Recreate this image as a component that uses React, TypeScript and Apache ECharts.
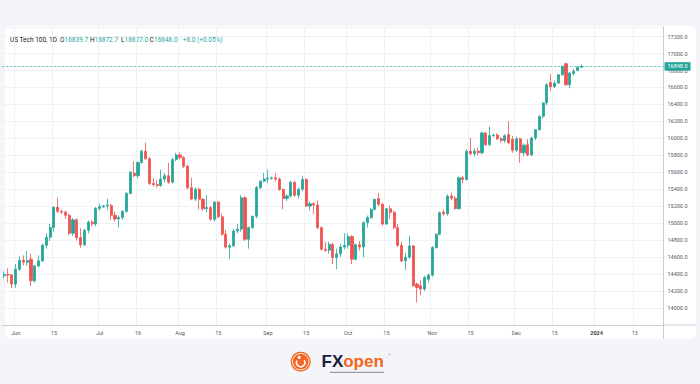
import React, { useEffect, useRef } from 'react';
import * as echarts from 'echarts';

// ---- data (US Tech 100, daily, 29 May 2023 – 27 Dec 2023) ----
const opens = [
  14380, 14395, 14390, 14282, 14458, 14564, 14540, 14576, 14321, 14497,
  14556, 14740, 14834, 14950, 15187, 15140, 15130, 15093, 14881, 15040,
  14830, 14745, 14917, 15013, 14990, 15175, 15195, 15205, 15210, 15093,
  15050, 15066, 15140, 15351, 15590, 15560, 15715, 15848, 15760, 15469,
  15455, 15445, 15520, 15560, 15484, 15751, 15805, 15775, 15672, 15418,
  15285, 15400, 15281, 15170, 15185, 15046, 15249, 15075, 14870, 14717,
  14735, 14908, 14930, 15300, 14810, 14950, 15081, 15421, 15496, 15520,
  15530, 15535, 15520, 15398, 15290, 15320, 15484, 15330, 15400, 15516,
  15202, 15230, 15215, 14948, 14693, 14680, 14750, 14596, 14640, 14720,
  14740, 14842, 14576, 14745, 14720, 15007, 15066, 15163, 15290, 15222,
  14990, 15171, 15128, 14948, 14740, 14556, 14600, 14732, 14282, 14262,
  14223, 14340, 14388, 14713, 14870, 15130, 15110, 15320, 15295, 15171,
  15536, 15516, 15848, 15820, 15850, 15830, 16064, 15927, 16033, 16040,
  15995, 15975, 16045, 15990, 15860, 15995, 15830, 15925, 15805, 16005,
  16103, 16260, 16417, 16660, 16610, 16652, 16750, 16880, 16632, 16765,
  16800, 16839.7,
];
const highs = [
  14430, 14470, 14400, 14520, 14610, 14620, 14673, 14640, 14510, 14620,
  14760, 14880, 14990, 15200, 15300, 15160, 15150, 15110, 15060, 15057,
  14940, 14930, 15030, 15040, 15190, 15230, 15215, 15290, 15230, 15140,
  15090, 15150, 15370, 15615, 15731, 15730, 15870, 15950, 15780, 15530,
  15510, 15633, 15590, 15712, 15770, 15830, 15835, 15790, 15690, 15536,
  15420, 15420, 15300, 15330, 15200, 15260, 15260, 15110, 14920, 14760,
  14930, 14990, 15330, 15320, 14960, 15090, 15440, 15510, 15594, 15633,
  15550, 15590, 15540, 15410, 15340, 15500, 15495, 15420, 15560, 15530,
  15260, 15250, 15270, 14960, 14780, 14780, 14770, 14700, 14760, 14880,
  14880, 14860, 14760, 14790, 15020, 15090, 15180, 15290, 15360, 15240,
  15180, 15210, 15150, 14990, 14780, 14650, 14850, 14745, 14300, 14330,
  14380, 14410, 14730, 14880, 15140, 15160, 15340, 15360, 15320, 15550,
  15560, 15870, 16005, 15880, 15890, 16080, 16070, 16142, 16055, 16060,
  16020, 16050, 16201, 16030, 16020, 16010, 15940, 15990, 16020, 16110,
  16270, 16430, 16650, 16760, 16680, 16760, 16860, 16894, 16780, 16820,
  16850, 16872.7,
];
const lows = [
  14350, 14300, 14235, 14240, 14440, 14500, 14500, 14262, 14300, 14480,
  14540, 14700, 14790, 14900, 15120, 15110, 15050, 14860, 14850, 14800,
  14713, 14730, 14880, 14960, 14964, 15150, 15180, 15160, 15040, 15020,
  14950, 15040, 15120, 15340, 15540, 15530, 15700, 15750, 15450, 15430,
  15420, 15430, 15480, 15460, 15470, 15730, 15750, 15650, 15400, 15270,
  15260, 15163, 15150, 15130, 15030, 15020, 15060, 14850, 14700, 14576,
  14720, 14880, 14900, 14790, 14700, 14930, 15060, 15400, 15480, 15470,
  15510, 15490, 15380, 15163, 15260, 15300, 15310, 15290, 15378, 15190,
  15150, 15110, 14930, 14680, 14660, 14640, 14517, 14458, 14600, 14690,
  14700, 14517, 14560, 14680, 14600, 14950, 15050, 15150, 15200, 14970,
  14980, 15050, 14930, 14720, 14540, 14450, 14580, 14250, 14067, 14150,
  14200, 14300, 14370, 14700, 14860, 15090, 15090, 15270, 15163, 15160,
  15470, 15500, 15800, 15790, 15800, 15810, 15910, 15910, 16015, 15980,
  15950, 15950, 15930, 15830, 15840, 15712, 15790, 15790, 15790, 15980,
  16090, 16230, 16390, 16560, 16590, 16640, 16740, 16620, 16590, 16740,
  16790, 16827,
];
const closes = [
  14395, 14390, 14282, 14458, 14564, 14540, 14560, 14321, 14497, 14556,
  14740, 14834, 14950, 15187, 15140, 15130, 15093, 14881, 15040, 14830,
  14745, 14917, 15013, 14990, 15175, 15195, 15205, 15215, 15093, 15050,
  15066, 15140, 15351, 15601, 15560, 15715, 15848, 15760, 15469, 15455,
  15445, 15520, 15560, 15484, 15751, 15805, 15775, 15672, 15418, 15285,
  15400, 15281, 15170, 15185, 15046, 15249, 15075, 14870, 14717, 14735,
  14908, 14930, 15300, 14810, 14950, 15081, 15421, 15496, 15520, 15530,
  15535, 15520, 15398, 15290, 15320, 15484, 15330, 15400, 15516, 15202,
  15230, 15215, 14948, 14693, 14680, 14750, 14596, 14640, 14720, 14740,
  14842, 14576, 14745, 14720, 15007, 15066, 15163, 15281, 15222, 14990,
  15171, 15128, 14948, 14740, 14556, 14600, 14732, 14262, 14243, 14223,
  14360, 14388, 14713, 14870, 15124, 15110, 15320, 15295, 15171, 15536,
  15516, 15848, 15820, 15850, 15830, 16064, 15927, 16033, 16040, 15995,
  15975, 16030, 15947, 15860, 15995, 15830, 15920, 15805, 16005, 16103,
  16260, 16417, 16632, 16610, 16652, 16750, 16847, 16632, 16770, 16790,
  16838, 16848,
];

// category slots: trading weekdays from 29 May 2023 (Christmas closed), plus future slots
const firstDate = '2023-05-29';
const slotCount = 173;
const closedDays = ['2023-12-25'];

const tickLabels: Record<string, string> = {
  '2023-06-01': 'Jun', '2023-06-15': '15', '2023-07-03': 'Jul', '2023-07-17': '16',
  '2023-08-01': 'Aug', '2023-08-15': '15', '2023-09-01': 'Sep', '2023-09-15': '15',
  '2023-10-02': 'Oct', '2023-10-16': '15', '2023-11-01': 'Nov', '2023-11-15': '15',
  '2023-12-01': 'Dec', '2023-12-15': '15', '2024-01-02': '2024', '2024-01-16': '13',
};

const yMin = 13800;
const yMax = 17313;
const yStep = 200;

const lastPrice = 16848;
const legendTitle = 'US Tech 100, 1D';
const legendO = '16839.7';
const legendH = '16872.7';
const legendL = '16827.0';
const legendC = '16848.0';
const legendChange = '+8.0 (+0.05%)';

const UP = '#26a69a';
const DOWN = '#ef5350';

function buildSlots(start: string, count: number, skip: string[]): string[] {
  const out: string[] = [];
  const d = new Date(start + 'T00:00:00Z');
  while (out.length < count) {
    const wd = d.getUTCDay();
    const s = d.toISOString().slice(0, 10);
    if (wd !== 0 && wd !== 6 && skip.indexOf(s) < 0) out.push(s);
    d.setUTCDate(d.getUTCDate() + 1);
  }
  return out;
}

export default function App() {
  const ref = useRef<HTMLDivElement>(null);

  useEffect(() => {
    if (!ref.current) return;
    const chart = echarts.init(ref.current, undefined, { renderer: 'svg' });
    const dates = buildSlots(firstDate, slotCount, closedDays);
    const data = dates.map((_, i) =>
      i < closes.length ? [opens[i], closes[i], lows[i], highs[i]] : '-'
    );
    const font = 'Roboto, "Noto Sans", sans-serif';
    const isTick = (_i: number, v: string) => !!tickLabels[v];
    const legendFont = `6.5px ${font}`;
    const logoFont = '"Liberation Sans", Arial, sans-serif';

    const option: any = {
      animation: false,
      backgroundColor: 'transparent',
      grid: { left: 2.3, right: 36.5, top: 27, bottom: 59, containLabel: false },
      xAxis: {
        type: 'category',
        data: dates,
        boundaryGap: true,
        axisLine: { show: true, lineStyle: { color: '#c9ccd3', width: 1 } },
        axisTick: { show: false },
        axisLabel: {
          interval: isTick,
          formatter: (v: string) => {
            const t = tickLabels[v] || '';
            return t === '2024' ? '{b|2024}' : t;
          },
          fontSize: 5.5,
          color: '#555a63',
          margin: 5,
          fontFamily: font,
          rich: { b: { fontWeight: 'bold', fontSize: 5.5, color: '#3a3e45', fontFamily: font } },
        },
        splitLine: { show: true, interval: isTick, lineStyle: { color: '#f0f1f4', width: 1 } },
      },
      yAxis: {
        type: 'value',
        position: 'right',
        min: yMin,
        max: yMax,
        interval: yStep,
        axisLine: { show: true, lineStyle: { color: '#c9ccd3', width: 1 } },
        axisTick: { show: false },
        axisLabel: {
          formatter: (v: number) =>
            Math.abs(v % yStep) < 1e-6 && v > yMin && v <= 17200 ? v.toFixed(1) : '',
          fontSize: 5.5,
          color: '#555a63',
          margin: 4,
          fontFamily: font,
        },
        splitLine: { show: true, lineStyle: { color: '#f0f1f4', width: 1 } },
      },
      series: [
        {
          type: 'candlestick',
          data,
          barWidth: '68%',
          itemStyle: {
            color: UP,
            color0: DOWN,
            borderColor: UP,
            borderColor0: DOWN,
            borderWidth: 0.8,
          },
          markLine: {
            silent: true,
            symbol: ['none', 'none'],
            data: [{ yAxis: lastPrice }],
            lineStyle: { color: UP, type: [2, 2], width: 0.7 },
            label: {
              show: true,
              position: 'end',
              formatter: lastPrice.toFixed(1),
              backgroundColor: UP,
              color: '#ffffff',
              fontSize: 5.5,
              fontFamily: font,
              padding: [1.5, 3, 1, 3],
              distance: 1,
            },
          },
        },
      ],
      graphic: [
        { type: 'line', shape: { x1: 663.5, y1: 325, x2: 696, y2: 325 }, style: { stroke: '#c9ccd3', lineWidth: 1 } },
        { type: 'line', shape: { x1: 663.5, y1: 325, x2: 663.5, y2: 339 }, style: { stroke: '#c9ccd3', lineWidth: 1 } },
        // legend
        { type: 'text', x: 10, y: 40, style: { text: legendTitle, fill: '#131722', font: legendFont, verticalAlign: 'middle' } },
        { type: 'text', x: 60, y: 40, style: { text: 'O', fill: '#131722', font: legendFont, verticalAlign: 'middle' } },
        { type: 'text', x: 64.5, y: 40, style: { text: legendO, fill: UP, font: legendFont, verticalAlign: 'middle' } },
        { type: 'text', x: 90, y: 40, style: { text: 'H', fill: '#131722', font: legendFont, verticalAlign: 'middle' } },
        { type: 'text', x: 94.5, y: 40, style: { text: legendH, fill: UP, font: legendFont, verticalAlign: 'middle' } },
        { type: 'text', x: 121, y: 40, style: { text: 'L', fill: '#131722', font: legendFont, verticalAlign: 'middle' } },
        { type: 'text', x: 124.5, y: 40, style: { text: legendL, fill: UP, font: legendFont, verticalAlign: 'middle' } },
        { type: 'text', x: 149.5, y: 40, style: { text: 'C', fill: '#131722', font: legendFont, verticalAlign: 'middle' } },
        { type: 'text', x: 154, y: 40, style: { text: legendC, fill: UP, font: legendFont, verticalAlign: 'middle' } },
        { type: 'text', x: 182.7, y: 40, style: { text: legendChange, fill: UP, font: legendFont, verticalAlign: 'middle' } },
        // logo
        { type: 'circle', shape: { cx: 300.7, cy: 361.7, r: 10 }, style: { fill: '#f26522' } },
        { type: 'circle', shape: { cx: 300.7, cy: 361.7, r: 8.2 }, style: { fill: 'none', stroke: '#ffffff', lineWidth: 0.9 } },
        { type: 'arc', shape: { cx: 300.7, cy: 362.5, r: 4.2, startAngle: -0.6, endAngle: 3.6 }, style: { fill: 'none', stroke: '#ffffff', lineWidth: 1.6 } },
        { type: 'circle', shape: { cx: 299.2, cy: 357.4, r: 1.6 }, style: { fill: '#ffffff' } },
        {
          type: 'text',
          x: 321.5,
          y: 361.5,
          style: {
            text: '{a|FX}{b|open}',
            verticalAlign: 'middle',
            rich: {
              a: { fill: '#1b1f3b', fontSize: 17, fontWeight: 'bold', fontFamily: logoFont },
              b: { fill: '#f26522', fontSize: 17, fontWeight: 'bold', fontFamily: logoFont },
            },
          },
        },
        { type: 'text', x: 388, y: 354.5, style: { text: '®', fill: '#8a8a8a', font: '4px sans-serif', verticalAlign: 'middle' } },
        { type: 'rect', shape: { x: 330, y: 371.8, width: 54, height: 1.3 }, style: { fill: '#9a9aa2' } },
      ],
    };
    chart.setOption(option);
    return () => chart.dispose();
  }, []);

  return (
    <div style={{ position: 'fixed', left: 0, top: 0, width: 700, height: 384, background: '#f4f5f8', overflow: 'hidden' }}>
      <div style={{ position: 'absolute', left: 5, top: 26, width: 691, height: 313, background: '#ffffff', borderRadius: 6 }} />
      <div ref={ref} style={{ position: 'absolute', left: 0, top: 0, width: 700, height: 384 }} />
    </div>
  );
}
